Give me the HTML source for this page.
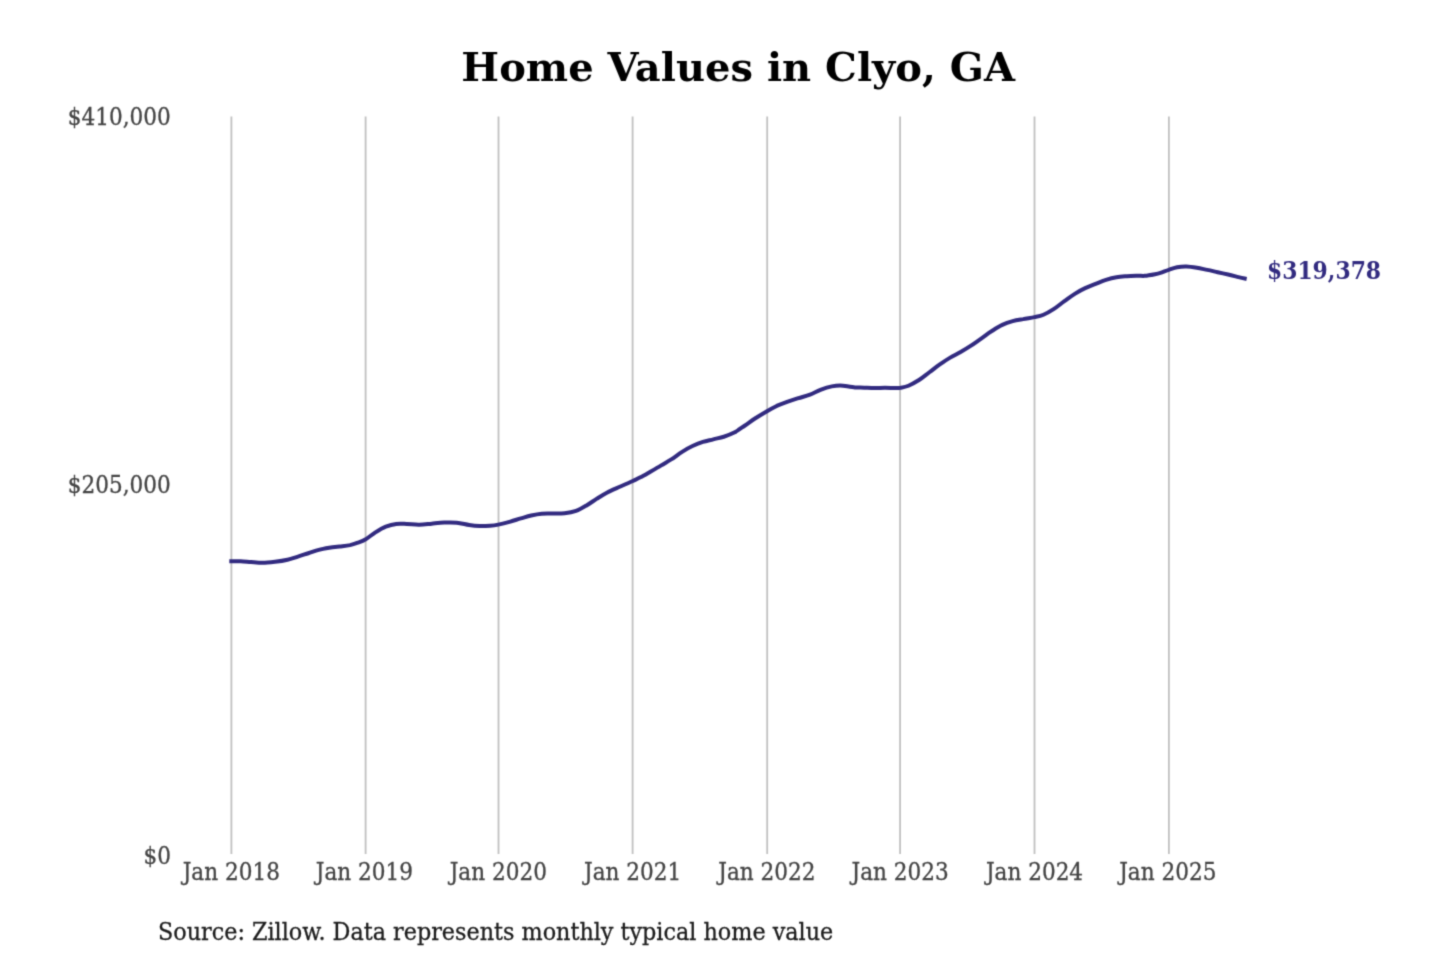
<!DOCTYPE html>
<html lang="en"><head><meta charset="utf-8"><title>Home Values in Clyo, GA</title>
<style>
html,body{margin:0;padding:0;background:#fff;width:1440px;height:960px;overflow:hidden;}
svg{display:block;}
text{font-family:"DejaVu Serif","Liberation Serif",serif;}
.c{font-family:"DejaVu Serif Condensed","DejaVu Serif","Liberation Serif",serif;font-stretch:condensed;}
</style></head>
<body>
<svg width="1440" height="960" viewBox="0 0 1440 960">
<defs><filter id="soft" x="0" y="0" width="1440" height="960" filterUnits="userSpaceOnUse" color-interpolation-filters="sRGB"><feConvolveMatrix order="3" kernelMatrix="1 4 1 4 16 4 1 4 1" edgeMode="duplicate" preserveAlpha="false"/></filter></defs>
<rect width="1440" height="960" fill="#fff"/>
<g filter="url(#soft)">
<g stroke="#c0c0c0" stroke-width="1.8">
<line x1="231.4" y1="116.6" x2="231.4" y2="854.0"/>
<line x1="365.6" y1="116.6" x2="365.6" y2="854.0"/>
<line x1="498.5" y1="116.6" x2="498.5" y2="854.0"/>
<line x1="632.6" y1="116.6" x2="632.6" y2="854.0"/>
<line x1="767.2" y1="116.6" x2="767.2" y2="854.0"/>
<line x1="900.1" y1="116.6" x2="900.1" y2="854.0"/>
<line x1="1034.5" y1="116.6" x2="1034.5" y2="854.0"/>
<line x1="1168.9" y1="116.6" x2="1168.9" y2="854.0"/>
</g>
<text transform="translate(738.2,81.0) scale(1,0.977)" text-anchor="middle" font-size="40" font-weight="bold" fill="#000">Home Values in Clyo, GA</text>
<g class="c" font-size="24" fill="#444" stroke="#444" stroke-width="0.3" text-anchor="end">
<text transform="translate(170.7,124.7) scale(1,0.977)">$410,000</text>
<text transform="translate(170.8,492.8) scale(1,0.977)">$205,000</text>
<text transform="translate(171.0,863.9) scale(1,0.977)">$0</text>
</g>
<g class="c" font-size="24" fill="#444" stroke="#444" stroke-width="0.3" text-anchor="middle">
<text transform="translate(231.3,879.7) scale(1,0.977)">Jan 2018</text>
<text transform="translate(364.4,879.7) scale(1,0.977)">Jan 2019</text>
<text transform="translate(498.3,879.7) scale(1,0.977)">Jan 2020</text>
<text transform="translate(632.7,879.7) scale(1,0.977)">Jan 2021</text>
<text transform="translate(766.9,879.7) scale(1,0.977)">Jan 2022</text>
<text transform="translate(900.2,879.7) scale(1,0.977)">Jan 2023</text>
<text transform="translate(1034.5,879.7) scale(1,0.977)">Jan 2024</text>
<text transform="translate(1167.8,879.7) scale(1,0.977)">Jan 2025</text>
</g>
<text transform="translate(158.0,939.7) scale(1,0.977)" class="c" font-size="24.8" fill="#1c1c1c" stroke="#1c1c1c" stroke-width="0.3">Source: Zillow. Data represents monthly typical home value</text>
<path transform="translate(0,0.35)" d="M231.3,560.9C232.9,560.9 237.3,560.7 240.6,560.8C243.9,560.9 247.3,561.4 251.0,561.7C254.7,562.0 258.5,562.5 262.5,562.5C266.5,562.5 270.8,562.0 275.0,561.5C279.2,561.0 283.7,560.3 287.5,559.4C291.3,558.5 294.4,557.3 297.9,556.2C301.4,555.2 304.8,554.0 308.3,552.9C311.8,551.8 315.3,550.4 318.8,549.5C322.2,548.6 325.7,548.0 329.2,547.4C332.7,546.8 336.1,546.5 339.6,546.1C343.1,545.7 346.9,545.4 350.0,544.8C353.1,544.1 355.8,543.1 358.3,542.2C360.9,541.3 362.5,540.9 365.3,539.2C368.1,537.5 372.0,534.2 375.4,532.0C378.8,529.8 382.3,527.6 385.8,526.2C389.3,524.9 392.8,524.0 396.2,523.6C399.7,523.2 402.9,523.5 406.7,523.6C410.5,523.7 415.0,524.5 419.2,524.4C423.4,524.3 427.5,523.7 431.7,523.3C435.9,522.9 440.0,522.4 444.2,522.2C448.4,522.0 452.5,521.9 456.7,522.3C460.9,522.7 465.4,524.1 469.2,524.7C473.0,525.3 476.1,525.6 479.6,525.7C483.1,525.8 486.9,525.6 490.0,525.4C493.1,525.2 494.9,525.0 498.3,524.3C501.7,523.6 506.6,522.3 510.4,521.2C514.1,520.2 517.3,519.1 520.8,518.1C524.3,517.1 527.8,516.0 531.2,515.2C534.7,514.4 538.2,513.7 541.7,513.4C545.2,513.1 548.3,513.3 552.1,513.2C555.9,513.1 560.6,513.3 564.6,512.9C568.6,512.5 572.4,511.9 576.0,510.6C579.6,509.3 583.0,507.2 586.5,505.1C590.0,503.1 593.4,500.5 596.9,498.3C600.4,496.1 603.5,494.1 607.3,492.1C611.1,490.1 615.5,488.3 619.8,486.4C624.0,484.5 629.4,482.2 632.8,480.6C636.2,479.0 637.4,478.6 640.4,477.0C643.4,475.4 647.3,473.1 650.8,471.1C654.3,469.1 657.8,467.1 661.2,465.0C664.7,462.9 668.2,461.0 671.7,458.8C675.2,456.5 678.6,453.7 682.1,451.5C685.6,449.3 689.0,447.3 692.5,445.7C696.0,444.1 699.4,442.7 702.9,441.6C706.4,440.5 709.8,439.9 713.3,439.0C716.8,438.1 720.3,437.5 723.8,436.4C727.2,435.3 730.7,434.0 734.2,432.2C737.7,430.4 741.1,427.8 744.6,425.4C748.1,423.0 751.3,420.5 755.0,418.1C758.7,415.7 763.4,412.9 767.0,410.8C770.6,408.7 773.4,407.2 776.7,405.6C780.1,404.1 783.5,402.8 787.1,401.5C790.7,400.2 794.7,399.0 798.5,397.8C802.3,396.6 806.4,395.6 810.0,394.2C813.6,392.8 816.8,390.9 820.4,389.5C824.0,388.1 828.0,386.7 831.8,386.0C835.5,385.3 841.6,385.2 843.0,385.3C844.4,385.4 854.3,387.0 855.5,387.1C856.7,387.3 861.0,387.2 864.2,387.3C867.4,387.4 871.1,387.6 874.6,387.6C878.1,387.6 881.5,387.5 885.0,387.5C888.5,387.5 892.9,387.6 895.4,387.6C897.9,387.6 897.9,387.9 900.1,387.5C902.3,387.1 905.4,386.7 908.5,385.4C911.6,384.1 915.5,381.9 919.0,379.7C922.5,377.4 925.9,374.5 929.4,371.9C932.9,369.3 936.3,366.5 939.8,364.1C943.3,361.7 946.7,359.4 950.2,357.3C953.7,355.2 957.1,353.6 960.6,351.6C964.1,349.6 967.5,347.6 971.0,345.3C974.5,343.0 978.0,340.4 981.5,338.0C985.0,335.6 988.4,332.9 991.9,330.7C995.4,328.4 998.8,326.1 1002.3,324.5C1005.8,322.9 1009.2,321.8 1012.7,320.8C1016.2,319.8 1019.5,319.4 1023.1,318.8C1026.7,318.1 1031.1,317.5 1034.5,316.8C1037.9,316.1 1040.2,315.8 1043.5,314.4C1046.8,313.0 1050.5,310.9 1054.0,308.6C1057.5,306.3 1060.9,303.3 1064.4,300.8C1067.9,298.3 1071.3,295.7 1074.8,293.5C1078.3,291.3 1081.7,289.4 1085.2,287.8C1088.7,286.2 1092.1,285.0 1095.6,283.6C1099.1,282.2 1102.5,280.6 1106.0,279.5C1109.5,278.4 1113.0,277.5 1116.5,276.9C1120.0,276.3 1123.4,276.1 1126.9,275.8C1130.4,275.5 1134.3,275.4 1137.3,275.3C1140.2,275.2 1141.6,275.7 1144.6,275.5C1147.5,275.3 1152.4,274.4 1155.0,273.9C1157.6,273.4 1158.1,273.3 1160.4,272.6C1162.7,271.9 1166.0,270.4 1168.8,269.5C1171.6,268.6 1174.1,267.5 1177.1,266.9C1180.0,266.3 1183.2,266.0 1186.5,266.1C1189.8,266.2 1193.4,266.8 1196.9,267.4C1200.4,268.0 1203.8,268.8 1207.3,269.5C1210.8,270.2 1214.2,271.1 1217.7,271.9C1221.2,272.7 1224.6,273.4 1228.1,274.2C1231.6,275.0 1235.7,276.1 1238.5,276.8C1241.3,277.5 1243.7,278.0 1244.7,278.2" fill="none" stroke="#322b80" stroke-width="4.0" stroke-linejoin="round" stroke-linecap="square"/>
<text transform="translate(1267.0,278.5) scale(1,0.977)" class="c" font-size="24.3" font-weight="bold" fill="#322b80">$319,378</text>
</g>
</svg>
</body></html>
